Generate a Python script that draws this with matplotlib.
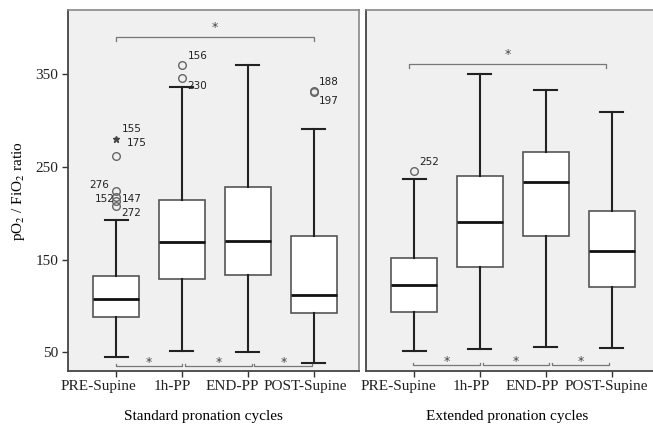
import matplotlib
matplotlib.use("Agg")
import matplotlib.pyplot as plt

plt.rcParams['font.family'] = ['Liberation Serif', 'DejaVu Serif']
plt.rcParams['mathtext.fontset'] = 'stix'

categories = ["PRE-Supine", "1h-PP", "END-PP", "POST-Supine"]
panel_titles = ["Standard pronation cycles", "Extended pronation cycles"]

# Standard pronation cycles: whislo, q1, median, q3, whishi
std_whislo = [45, 52, 50, 39]
std_q1 = [88, 129, 133, 92]
std_med = [108, 169, 170, 112]
std_q3 = [132, 214, 228, 176]
std_whishi = [193, 336, 360, 291]
std_outliers = [[262, 224, 217, 213, 208], [346, 360], [], [331, 332]]
std_extremes = [[280], [], [], []]

# Extended pronation cycles
ext_whislo = [52, 54, 56, 55]
ext_q1 = [94, 142, 175, 120]
ext_med = [123, 191, 234, 159]
ext_q3 = [152, 240, 266, 202]
ext_whishi = [237, 350, 333, 309]
ext_outliers = [[246], [], [], []]
ext_extremes = [[], [], [], []]

# outlier labels: (category index, value, text, dx pts, dy pts, ha)
std_labels = [
    (0, 280, "155", 4, 7, 'left'),
    (0, 262, "175", 8, 9, 'left'),
    (0, 224, "276", -5, 4, 'right'),
    (0, 215, "152", -1, 0, 'right'),
    (0, 215, "147", 4, 0, 'left'),
    (0, 208, "272", 4, -5, 'left'),
    (1, 360, "156", 4, 6, 'left'),
    (1, 346, "230", 4, -6, 'left'),
    (3, 332, "188", 4, 6, 'left'),
    (3, 331, "197", 4, -7, 'left'),
]
ext_labels = [(0, 246, "252", 4, 6, 'left')]

yticks = [50, 150, 250, 350]

# horizontal shift of each category label relative to its tick (points)
std_label_shift = [-13, -7, -11, -6]
ext_label_shift = [-11, -6, -10, -4]

fig = plt.figure(figsize=(6.53, 4.26), dpi=100)
ax1 = fig.add_axes([68/653, 55/426, 291/653, 361/426])
ax2 = fig.add_axes([366/653, 55/426, 291/653, 361/426])

def make_stats(lo, q1, med, q3, hi, fl):
    return [dict(whislo=lo[i], q1=q1[i], med=med[i], q3=q3[i], whishi=hi[i],
                 fliers=fl[i]) for i in range(len(lo))]

def draw(ax, stats, extremes, labels, title, show_y, shifts, title_x):
    ax.set_facecolor('#f0f0f0')
    pos = list(range(1, len(categories) + 1))
    ax.bxp(stats, positions=pos, widths=0.7, patch_artist=True,
           showfliers=True,
           boxprops=dict(facecolor='white', edgecolor='#555555', linewidth=1.2),
           medianprops=dict(color='#111111', linewidth=2.0),
           whiskerprops=dict(color='#222222', linewidth=1.5),
           capprops=dict(color='#222222', linewidth=1.5),
           capwidths=0.35,
           flierprops=dict(marker='o', markerfacecolor='none',
                           markeredgecolor='#666666', markersize=5.5,
                           markeredgewidth=1.0))
    for i, vals in enumerate(extremes):
        if vals:
            ax.plot([i + 1] * len(vals), vals, linestyle='none', marker='*',
                    color='#444444', markersize=5)
    for (ci, v, t, dx, dy, ha) in labels:
        ax.annotate(t, (ci + 1, v), xytext=(dx, dy), textcoords='offset points',
                    ha=ha, va='center', fontsize=7.5, family='DejaVu Sans',
                    color='#222222')
    ax.set_xlim(0.27, 4.69)
    ax.set_ylim(30, 419)
    ax.set_xticks(pos)
    ax.set_xticklabels([])
    for p, name, s in zip(pos, categories, shifts):
        ax.annotate(name, (p, 0), xycoords=('data', 'axes fraction'),
                    xytext=(s, -11.5), textcoords='offset points',
                    ha='center', va='center', fontsize=11, color='#222222',
                    annotation_clip=False)
    ax.set_yticks(yticks)
    if show_y:
        ax.set_yticklabels([str(v) for v in yticks], fontsize=11, color='#222222')
        ax.set_ylabel(r'pO$_2$ / FiO$_2$ ratio', fontsize=11, labelpad=6)
    else:
        ax.tick_params(axis='y', left=False, labelleft=False)
    ax.tick_params(axis='both', length=4, width=1.0, color='#333333', pad=3)
    ax.set_xlabel(title, fontsize=11, va='center')
    ax.xaxis.set_label_coords(title_x, -0.125)
    for side in ['top', 'right']:
        ax.spines[side].set_color('#888888')
        ax.spines[side].set_linewidth(1.2)
    for side in ['left', 'bottom']:
        ax.spines[side].set_color('#444444')
        ax.spines[side].set_linewidth(1.3)

draw(ax1, make_stats(std_whislo, std_q1, std_med, std_q3, std_whishi, std_outliers),
     std_extremes, std_labels, panel_titles[0], True, std_label_shift, 0.465)
draw(ax2, make_stats(ext_whislo, ext_q1, ext_med, ext_q3, ext_whishi, ext_outliers),
     ext_extremes, ext_labels, panel_titles[1], False, ext_label_shift, 0.485)

def top_bracket(ax, x0, x1, y, h):
    ax.plot([x0, x0, x1, x1], [y - h, y, y, y - h], color='#777777', lw=0.9)
    ax.text((x0 + x1) / 2, y + 3, '*', ha='center', va='bottom', fontsize=9,
            family='DejaVu Sans', color='#444444')

def bottom_brackets(ax, segs, y, h):
    for (x0, x1) in segs:
        ax.plot([x0, x0, x1, x1], [y + h, y, y, y + h], color='#777777', lw=0.9)
        ax.text((x0 + x1) / 2, y - 3, '*', ha='center', va='bottom', fontsize=9,
                family='DejaVu Sans', color='#444444')

top_bracket(ax1, 1.0, 4.0, 390, 4)
top_bracket(ax2, 0.93, 3.92, 361, 4)
bottom_brackets(ax1, [(1.0, 2.0), (2.04, 3.07), (3.1, 3.98)], 35, 3)
bottom_brackets(ax2, [(0.98, 2.0), (2.05, 3.05), (3.1, 3.96)], 36, 3)

fig.savefig('out.png', dpi=100, facecolor='white')
